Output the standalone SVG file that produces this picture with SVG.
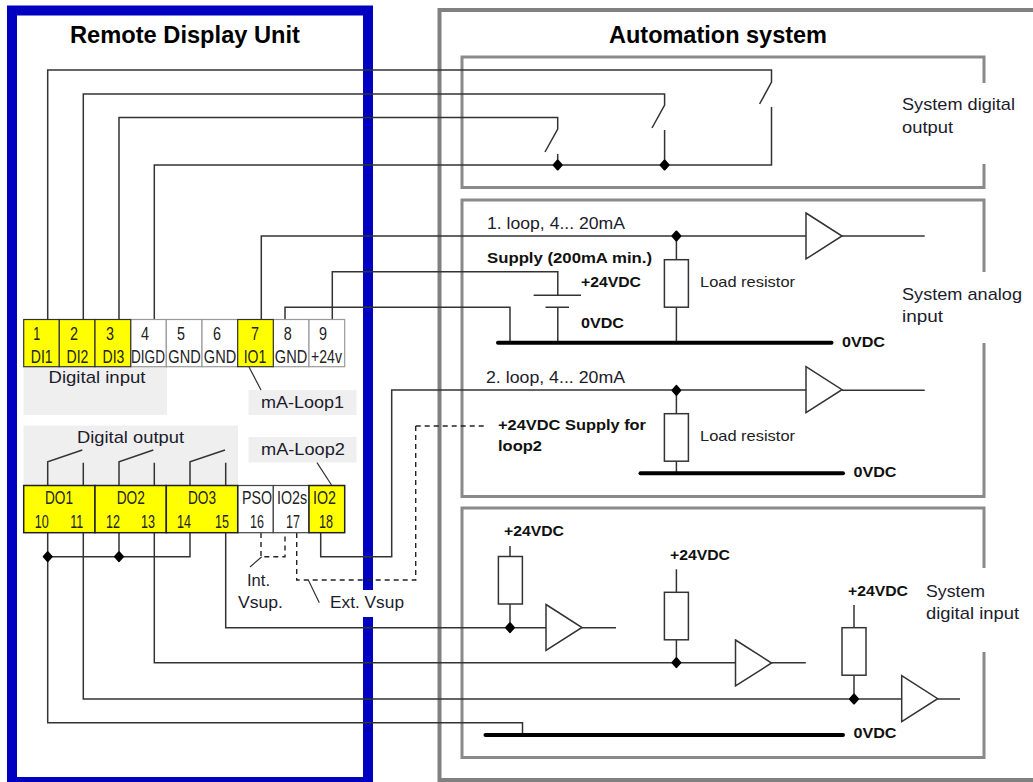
<svg xmlns="http://www.w3.org/2000/svg" width="1033" height="782" viewBox="0 0 1033 782">
<style>
text{font-family:"Liberation Sans",Arial,sans-serif;fill:#1c1c2c;font-size:17px}
.t{font-weight:bold;font-size:23px;fill:#000}
.b{font-weight:bold;font-size:15.5px;fill:#111}
.s{font-size:15px;fill:#222}
.c{font-size:19px;text-anchor:middle;fill:#222}
.bg{fill:#efefef}
.y{fill:#ffff00;stroke:#333;stroke-width:1.2}
.w{fill:#fff;stroke:#999;stroke-width:1.2}
.yo{fill:#ffff00;stroke:#222;stroke-width:1.5}
.wo{fill:#fff;stroke:#444;stroke-width:1.2}
.blue{fill:none;stroke:#0000c0;stroke-width:10}
.outer{fill:none;stroke:#808080;stroke-width:4}
.sub{fill:none;stroke:#8a8a8a;stroke-width:3}
.wire{fill:none;stroke:#333;stroke-width:1.5}
.thin{fill:none;stroke:#333;stroke-width:1.2}
.dash{fill:none;stroke:#222;stroke-width:1.4;stroke-dasharray:5 4}
.bus{fill:none;stroke:#000;stroke-width:4;stroke-linecap:round}
.part{fill:#fff;stroke:#333;stroke-width:1.5}
.dot{fill:#000;stroke:#000;stroke-width:2;stroke-linejoin:round}
</style>
<defs>
<polygon id="d" class="dot" points="0,-4.5 4,0 0,4.5 -4,0"/>
<rect id="r" class="part" x="-12" y="-24" width="24" height="47.5"/>
<polygon id="a" class="part" points="0,-23 36,0 0,23"/>
</defs>
<g id="frames">
<path id="remote-frame" class="blue" d="M368 590V10.5H12V782H368V617"/>
<path id="automation-frame" class="outer" d="M1040 10H439.5V780H1040"/>
<path id="system-digital-output-frame" class="sub" d="M984 83V57H462V187.5H984V164"/>
<path id="system-analog-input-frame" class="sub" d="M984 272V200H462V496.5H984V343"/>
<path id="system-digital-input-frame" class="sub" d="M984 568V508H462V757.5H984V652"/>
</g>
<g id="label-backgrounds">
<rect class="bg" x="23.5" y="367" width="143.5" height="48"/>
<rect class="bg" x="248.5" y="390" width="108" height="25"/>
<rect class="bg" x="23.5" y="425.5" width="214.5" height="60"/>
<rect class="bg" x="248.5" y="437" width="108" height="25.5"/>
</g>
<g id="connectors">
<path class="wire" d="M47.7 319V70H771.5V82L759.6 104"/>
<path class="wire" d="M83.3 319V94H664.6V105L652 128"/>
<path class="wire" d="M119 319V117.5H557.7V129L545 152"/>
<path class="wire" d="M154.3 319V165H771.5V107M664.6 165V130M557.7 165V154"/>
<path class="wire" d="M261.3 319V236H806M842 236H924.7M676.4 236V260M676.4 307.5V342"/>
<path class="wire" d="M285 319V307.3H510V342"/>
<path class="wire" d="M332.3 319V271.7H557.8V295.3M533.6 295.3H581M545.5 307.3H569M557.8 307.3V342"/>
<path class="bus" d="M498 342.7H831.5"/>
<path class="wire" d="M320.7 533V556.7H391.7V390H806M842 390.3H924.7M676.4 390V414M676.4 461.5V473"/>
<path class="bus" d="M640.5 473.3H843"/>
<path class="dash" d="M296.7 533V580H415.7V425"/>
<path class="dash" d="M415.7 426H487"/>
<path class="dash" d="M261 533V556.7H285V533"/>
<path class="thin" d="M261.7 556.7L250 567M308.3 580L319.3 602.7M249 367L261 390M317 462.7L331.5 485"/>
<path class="wire" d="M47.7 485V461.7L82.3 450M83.3 485V462.7"/>
<path class="wire" d="M119 485V461.7L153.3 450M154.3 485V462.7"/>
<path class="wire" d="M190 485V461.7L225 450M225.7 485V462.7"/>
<path class="wire" d="M47.7 533V722.7H522.5V735M47.7 556.7H190V533M119 533V556.7"/>
<path class="wire" d="M83.3 533V699H901.7M937.7 699H960M854 699V675.7M854 627.7V605"/>
<path class="wire" d="M154.3 533V662.7H735.5M771 662.7H805.8M676.4 662.7V640M676.4 592.3V569.3"/>
<path class="wire" d="M225.7 533V627.7H546M581 627.7H616M510 627.7V604.3M510 556.7V546"/>
<path class="bus" d="M485.5 735H843"/>
<use href="#d" x="557.7" y="165"/><use href="#d" x="664.6" y="165"/>
<use href="#d" x="676.4" y="236"/><use href="#d" x="676.4" y="390.3"/>
<use href="#d" x="47.7" y="556.7"/><use href="#d" x="119" y="556.7"/>
<use href="#d" x="510" y="627.7"/><use href="#d" x="676.4" y="662.7"/><use href="#d" x="854" y="699"/>
</g>
<g id="top-terminals">
<rect class="w" x="130.7" y="319.5" width="35.6" height="47.2"/><rect class="w" x="166.3" y="319.5" width="35.7" height="47.2"/><rect class="w" x="202" y="319.5" width="35.7" height="47.2"/><rect class="w" x="273.3" y="319.5" width="35.7" height="47.2"/><rect class="w" x="309" y="319.5" width="35.7" height="47.2"/>
<rect class="y" x="23.7" y="319.5" width="35.6" height="47.2"/><rect class="y" x="59.3" y="319.5" width="35.7" height="47.2"/><rect class="y" x="95" y="319.5" width="35.7" height="47.2"/><rect class="y" x="237.7" y="319.5" width="35.6" height="47.2"/>
<text class="c" x="36.7" y="339.5" textLength="7" lengthAdjust="spacingAndGlyphs">1</text><text class="c" x="74" y="339.5" textLength="8" lengthAdjust="spacingAndGlyphs">2</text><text class="c" x="110" y="339.5" textLength="8" lengthAdjust="spacingAndGlyphs">3</text><text class="c" x="145" y="339.5" textLength="8" lengthAdjust="spacingAndGlyphs">4</text><text class="c" x="181" y="339.5" textLength="8" lengthAdjust="spacingAndGlyphs">5</text><text class="c" x="217" y="339.5" textLength="8" lengthAdjust="spacingAndGlyphs">6</text><text class="c" x="255" y="339.5" textLength="8" lengthAdjust="spacingAndGlyphs">7</text><text class="c" x="287.7" y="339.5" textLength="8" lengthAdjust="spacingAndGlyphs">8</text><text class="c" x="323" y="339.5" textLength="8" lengthAdjust="spacingAndGlyphs">9</text>
<text class="c" transform="translate(41.7 363) scale(.74 1)">DI1</text><text class="c" transform="translate(77.5 363) scale(.74 1)">DI2</text><text class="c" transform="translate(113.5 363) scale(.74 1)">DI3</text><text class="c" transform="translate(148 363) scale(.716 1)">DIGD</text><text class="c" transform="translate(184.5 363) scale(.766 1)">GND</text><text class="c" transform="translate(220 363) scale(.766 1)">GND</text><text class="c" transform="translate(255 363) scale(.74 1)">IO1</text><text class="c" transform="translate(291 363) scale(.766 1)">GND</text><text class="c" transform="translate(326.5 363) scale(.74 1)">+24v</text>
</g>
<g id="bottom-terminals">
<rect class="wo" x="237.7" y="485.5" width="35.6" height="47.2"/><rect class="wo" x="273.3" y="485.5" width="35.7" height="47.2"/>
<rect class="yo" x="23.7" y="485.5" width="71.3" height="47.2"/><rect class="yo" x="95" y="485.5" width="71.3" height="47.2"/><rect class="yo" x="166.3" y="485.5" width="71.4" height="47.2"/><rect class="yo" x="309" y="485.5" width="35.7" height="47.2"/>
<text class="c" transform="translate(59 504) scale(.72 1)">DO1</text><text class="c" transform="translate(130.7 504) scale(.72 1)">DO2</text><text class="c" transform="translate(202 504) scale(.72 1)">DO3</text><text class="c" transform="translate(257 504) scale(.75 1)">PSO</text><text class="c" transform="translate(292 504) scale(.75 1)">IO2s</text><text class="c" transform="translate(324.5 504) scale(.75 1)">IO2</text>
<text class="c" x="41.7" y="527.5" textLength="14" lengthAdjust="spacingAndGlyphs">10</text><text class="c" x="76.7" y="527.5" textLength="13" lengthAdjust="spacingAndGlyphs">11</text><text class="c" x="113" y="527.5" textLength="14" lengthAdjust="spacingAndGlyphs">12</text><text class="c" x="148" y="527.5" textLength="14" lengthAdjust="spacingAndGlyphs">13</text><text class="c" x="184" y="527.5" textLength="14" lengthAdjust="spacingAndGlyphs">14</text><text class="c" x="222" y="527.5" textLength="14" lengthAdjust="spacingAndGlyphs">15</text><text class="c" x="257" y="527.5" textLength="14" lengthAdjust="spacingAndGlyphs">16</text><text class="c" x="293" y="527.5" textLength="14" lengthAdjust="spacingAndGlyphs">17</text><text class="c" x="326" y="527.5" textLength="14" lengthAdjust="spacingAndGlyphs">18</text>
</g>
<g id="components">
<use href="#r" x="676.4" y="283.7"/><use href="#r" x="676.4" y="437.7"/>
<use href="#r" x="510.4" y="580.5"/><use href="#r" x="676.4" y="616.3"/><use href="#r" x="854" y="651.7"/>
<use href="#a" x="806" y="236"/><use href="#a" x="806" y="389.7"/>
<use href="#a" x="546" y="627.5"/><use href="#a" x="735.5" y="663"/><use href="#a" x="901.7" y="698.7"/>
</g>
<g id="labels">
<text class="t" x="70" y="43" textLength="230" lengthAdjust="spacingAndGlyphs">Remote Display Unit</text>
<text class="t" x="609" y="43" textLength="218" lengthAdjust="spacingAndGlyphs">Automation system</text>
<text x="48.5" y="383" textLength="97" lengthAdjust="spacingAndGlyphs">Digital input</text>
<text x="77" y="442.5" textLength="107" lengthAdjust="spacingAndGlyphs">Digital output</text>
<text x="261" y="408" textLength="83" lengthAdjust="spacingAndGlyphs">mA-Loop1</text>
<text x="261" y="455" textLength="84" lengthAdjust="spacingAndGlyphs">mA-Loop2</text>
<text x="247" y="585.7" textLength="23" lengthAdjust="spacingAndGlyphs">Int.</text>
<text x="238" y="608" textLength="45" lengthAdjust="spacingAndGlyphs">Vsup.</text>
<text x="330" y="608" textLength="74" lengthAdjust="spacingAndGlyphs">Ext. Vsup</text>
<text x="902" y="110" textLength="113" lengthAdjust="spacingAndGlyphs">System digital</text>
<text x="902" y="132.5" textLength="51" lengthAdjust="spacingAndGlyphs">output</text>
<text x="902" y="300" textLength="120" lengthAdjust="spacingAndGlyphs">System analog</text>
<text x="902" y="322" textLength="41" lengthAdjust="spacingAndGlyphs">input</text>
<text x="926" y="597" textLength="59" lengthAdjust="spacingAndGlyphs">System</text>
<text x="926" y="619.3" textLength="93" lengthAdjust="spacingAndGlyphs">digital input</text>
<text x="487" y="229" textLength="138" lengthAdjust="spacingAndGlyphs">1. loop, 4... 20mA</text>
<text x="486" y="383" textLength="139" lengthAdjust="spacingAndGlyphs">2. loop, 4... 20mA</text>
<text class="s" x="700" y="287" textLength="95" lengthAdjust="spacingAndGlyphs">Load resistor</text>
<text class="s" x="700" y="441" textLength="95" lengthAdjust="spacingAndGlyphs">Load resistor</text>
<text class="b" x="487" y="263" textLength="165" lengthAdjust="spacingAndGlyphs">Supply (200mA min.)</text>
<text class="b" x="581" y="287" textLength="60" lengthAdjust="spacingAndGlyphs">+24VDC</text>
<text class="b" x="581" y="328" textLength="43" lengthAdjust="spacingAndGlyphs">0VDC</text>
<text class="b" x="842" y="347" textLength="43" lengthAdjust="spacingAndGlyphs">0VDC</text>
<text class="b" x="498" y="430" textLength="148" lengthAdjust="spacingAndGlyphs">+24VDC Supply for</text>
<text class="b" x="498" y="450.5" textLength="44" lengthAdjust="spacingAndGlyphs">loop2</text>
<text class="b" x="853.5" y="477" textLength="43" lengthAdjust="spacingAndGlyphs">0VDC</text>
<text class="b" x="504" y="536" textLength="60" lengthAdjust="spacingAndGlyphs">+24VDC</text>
<text class="b" x="670" y="560" textLength="60" lengthAdjust="spacingAndGlyphs">+24VDC</text>
<text class="b" x="848" y="596" textLength="60" lengthAdjust="spacingAndGlyphs">+24VDC</text>
<text class="b" x="853.5" y="738" textLength="43" lengthAdjust="spacingAndGlyphs">0VDC</text>
</g>
</svg>
